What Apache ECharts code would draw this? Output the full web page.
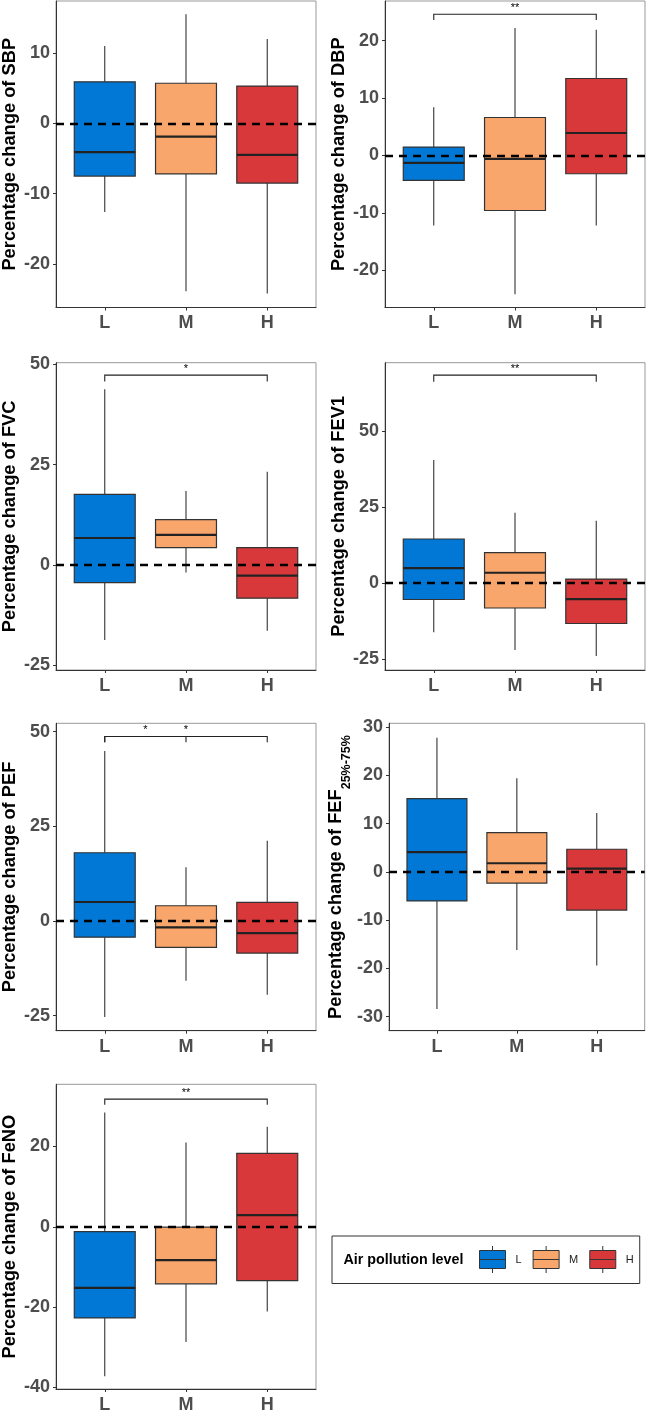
<!DOCTYPE html>
<html>
<head>
<meta charset="utf-8">
<script src="https://cdn.jsdelivr.net/npm/echarts@6/dist/echarts.min.js"></script>
<style>
html,body{margin:0;padding:0;background:#fff;}
#chart{width:646px;height:1414px;}
</style>
</head>
<body>
<div id="chart"></div>
<script>
// ---------- data ----------
const groups = ['L', 'M', 'H'];
const groupColors = ['#0178D6', '#F8A66B', '#D9383A'];

// [lower whisker, Q1, median, Q3, upper whisker] for L, M, H
const sbpStats  = [[-12.6, -7.5, -4.1, 5.9, 11.0], [-23.9, -7.2, -1.9, 5.7, 15.5], [-24.2, -8.5, -4.5, 5.3, 12.0]];
const dbpStats  = [[-12.2, -4.35, -1.3, 1.45, 8.4], [-24.2, -9.6, -0.6, 6.6, 22.2], [-12.2, -3.2, 3.9, 13.4, 21.9]];
const fvcStats  = [[-18.7, -4.4, 6.7, 17.6, 43.8], [-1.9, 4.3, 7.5, 11.3, 18.4], [-16.4, -8.3, -2.7, 4.3, 23.2]];
const fev1Stats = [[-16.2, -5.4, 4.9, 14.5, 40.5], [-22.0, -8.2, 3.4, 10.0, 23.1], [-24.0, -13.3, -5.3, 1.3, 20.5]];
const pefStats  = [[-25.4, -4.3, 5.0, 18.0, 44.9], [-15.8, -7.0, -1.7, 4.0, 14.2], [-19.5, -8.5, -3.2, 4.9, 21.2]];
const fefStats  = [[-28.4, -6.0, 4.1, 15.2, 27.8], [-16.2, -2.3, 1.8, 8.15, 19.4], [-19.4, -7.9, 0.7, 4.7, 12.2]];
const fenoStats = [[-37.2, -22.7, -15.2, -1.2, 28.5], [-28.7, -14.2, -8.3, -0.1, 21.0], [-21.1, -13.4, 2.9, 18.3, 24.9]];

// y tick labels
const sbpTicks  = [-20, -10, 0, 10];
const dbpTicks  = [-20, -10, 0, 10, 20];
const fvcTicks  = [-25, 0, 25, 50];
const fev1Ticks = [-25, 0, 25, 50];
const pefTicks  = [-25, 0, 25, 50];
const fefTicks  = [-30, -20, -10, 0, 10, 20, 30];
const fenoTicks = [-40, -20, 0, 20];

// y axis ranges [min, max]
const sbpRange  = [-26.2, 17.4];
const dbpRange  = [-26.5, 26.9];
const fvcRange  = [-26.2, 50.4];
const fev1Range = [-28.6, 72.5];
const pefRange  = [-29.0, 52.2];
const fefRange  = [-32.9, 30.8];
const fenoRange = [-40.4, 35.5];

// significance brackets: [from group, to group, bracket y, tip y, label]
const sbpSig  = [];
const dbpSig  = [[1, 3, 24.6, 23.6, '**']];
const fvcSig  = [[1, 3, 47.3, 45.7, '*']];
const fev1Sig = [[1, 3, 68.4, 66.2, '**']];
const pefSig  = [[1, 2, 48.7, 47.2, '*'], [1, 3, 48.7, 47.2, '*']];
const fefSig  = [];
const fenoSig = [[1, 3, 31.8, 30.4, '**']];

const titles = [
  'Percentage change of SBP',
  'Percentage change of DBP',
  'Percentage change of FVC',
  'Percentage change of FEV1',
  'Percentage change of PEF',
  '{m|Percentage change of FEF}{s|25%-75%}',
  'Percentage change of FeNO'
];
const legendTitle = 'Air pollution level';

// ---------- layout ----------
const FONT = "'Liberation Sans', Arial, sans-serif";
const gridBoxes = [
  { left: 55,  top: 1,     width: 261,   height: 306.5 },
  { left: 385, top: 1,     width: 260,   height: 306.5 },
  { left: 55,  top: 362.7, width: 261,   height: 307.3 },
  { left: 385, top: 362.7, width: 260,   height: 307.3 },
  { left: 55,  top: 723.3, width: 261,   height: 307.4 },
  { left: 389, top: 723.3, width: 255.7, height: 307.4 },
  { left: 55,  top: 1084.3, width: 261,  height: 308 }
];
const nameGaps = [37, 37, 37, 37, 37, 34, 37];

const panels = [
  { stats: sbpStats,  ticks: sbpTicks,  range: sbpRange,  sig: sbpSig },
  { stats: dbpStats,  ticks: dbpTicks,  range: dbpRange,  sig: dbpSig },
  { stats: fvcStats,  ticks: fvcTicks,  range: fvcRange,  sig: fvcSig },
  { stats: fev1Stats, ticks: fev1Ticks, range: fev1Range, sig: fev1Sig },
  { stats: pefStats,  ticks: pefTicks,  range: pefRange,  sig: pefSig },
  { stats: fefStats,  ticks: fefTicks,  range: fefRange,  sig: fefSig },
  { stats: fenoStats, ticks: fenoTicks, range: fenoRange, sig: fenoSig }
];

function renderBox(params, api) {
  const x = api.value(0);
  const lo = api.coord([x, api.value(1)]);
  const q1 = api.coord([x, api.value(2)]);
  const md = api.coord([x, api.value(3)]);
  const q3 = api.coord([x, api.value(4)]);
  const hi = api.coord([x, api.value(5)]);
  const half = api.size([0.75, 0])[0] / 2;
  const color = api.visual('color');
  return {
    type: 'group',
    children: [
      { type: 'line', shape: { x1: hi[0], y1: hi[1], x2: q3[0], y2: q3[1] }, style: { stroke: '#333', lineWidth: 1.1 } },
      { type: 'line', shape: { x1: q1[0], y1: q1[1], x2: lo[0], y2: lo[1] }, style: { stroke: '#333', lineWidth: 1.1 } },
      { type: 'rect', shape: { x: md[0] - half, y: q3[1], width: 2 * half, height: q1[1] - q3[1] }, style: { fill: color, stroke: '#333', lineWidth: 1.2 } },
      { type: 'line', shape: { x1: md[0] - half, y1: md[1], x2: md[0] + half, y2: md[1] }, style: { stroke: '#222', lineWidth: 2.2 } }
    ]
  };
}

function renderSig(params, api) {
  const a = api.value(0), b = api.value(1), y = api.value(2), tip = api.value(3);
  const p1 = api.coord([a, tip]), p2 = api.coord([a, y]), p3 = api.coord([b, y]), p4 = api.coord([b, tip]);
  const label = params.context.labels[params.dataIndex];
  const mid = api.coord([(a + b) / 2, y]);
  return {
    type: 'group',
    children: [
      { type: 'polyline', shape: { points: [p1, p2, p3, p4] }, style: { stroke: '#222', lineWidth: 1.1, fill: null } },
      { type: 'text', x: mid[0], y: mid[1] - 1, style: { text: label, fill: '#000', font: '11px ' + FONT, align: 'center', verticalAlign: 'bottom' } }
    ]
  };
}

const grid = [], xAxis = [], yAxis = [], series = [];
panels.forEach((p, i) => {
  grid.push(Object.assign({ show: true, borderColor: '#999', borderWidth: 1, backgroundColor: 'transparent' }, gridBoxes[i]));
  xAxis.push({
    type: 'value', gridIndex: i, min: 0.4, max: 3.6,
    splitLine: { show: false },
    axisLine: { show: true, onZero: false, lineStyle: { color: '#333', width: 1 } },
    axisTick: { show: true, customValues: [1, 2, 3], length: 3, lineStyle: { color: '#333' } },
    axisLabel: { customValues: [1, 2, 3], formatter: v => groups[Math.round(v) - 1], fontSize: 18, fontWeight: 'bold', color: '#4D4D4D', fontFamily: FONT, margin: 7 }
  });
  yAxis.push({
    type: 'value', gridIndex: i, min: p.range[0], max: p.range[1],
    name: titles[i], nameLocation: 'middle', nameGap: nameGaps[i],
    nameTextStyle: {
      fontSize: 18.3, fontWeight: 'bold', color: '#000', fontFamily: FONT,
      rich: {
        m: { fontSize: 18.3, fontWeight: 'bold', color: '#000', fontFamily: FONT },
        s: { fontSize: 12.5, fontWeight: 'bold', color: '#000', fontFamily: FONT, padding: [22, 0, 0, 0] }
      }
    },
    splitLine: { show: false },
    axisLine: { show: true, onZero: false, lineStyle: { color: '#333', width: 1 } },
    axisTick: { show: true, customValues: p.ticks, length: 3, lineStyle: { color: '#333' } },
    axisLabel: { customValues: p.ticks, fontSize: 18, fontWeight: 'bold', color: '#4D4D4D', fontFamily: FONT, margin: 6 }
  });
  groups.forEach((g, k) => {
    series.push({
      type: 'custom', name: g, xAxisIndex: i, yAxisIndex: i,
      itemStyle: { color: groupColors[k], borderColor: '#333', borderWidth: 1 },
      renderItem: renderBox,
      encode: { x: 0, y: [1, 2, 3, 4, 5] },
      data: [[k + 1].concat(p.stats[k])],
      z: 2, silent: true
    });
  });
  // zero reference line
  series.push({
    type: 'line', name: 'zero' + i, xAxisIndex: i, yAxisIndex: i, data: [], z: 5, silent: true,
    markLine: {
      silent: true, symbol: 'none', animation: false,
      label: { show: false },
      lineStyle: { type: [8, 6], color: '#000', width: 2.3 },
      data: [{ yAxis: 0 }]
    }
  });
  if (p.sig.length) {
    const ctx = { labels: p.sig.map(s => s[4]) };
    series.push({
      type: 'custom', name: 'sig' + i, xAxisIndex: i, yAxisIndex: i, z: 6, silent: true,
      renderItem: (params, api) => { params.context.labels = ctx.labels; return renderSig(params, api); },
      encode: { x: [0, 1], y: [2, 3] },
      data: p.sig.map(s => s.slice(0, 4))
    });
  }
});

const option = {
  animation: false,
  backgroundColor: '#fff',
  textStyle: { fontFamily: FONT },
  title: [{
    text: legendTitle, left: 343.5, top: 1253.5, padding: 0,
    textStyle: { fontSize: 14.3, fontWeight: 'bold', color: '#000', fontFamily: FONT }
  }],
  legend: {
    data: groups,
    left: 332, top: 1236,
    orient: 'horizontal',
    padding: [9.5, 6, 10, 147],
    itemGap: 11,
    itemWidth: 26, itemHeight: 27,
    icon: 'path://M13,0L13,4.5M0,4.5L26,4.5L26,22.5L0,22.5ZM0,13.5L26,13.5M13,22.5L13,27',
    itemStyle: { borderColor: '#333', borderWidth: 1 },
    borderColor: '#333', borderWidth: 1,
    selectedMode: false,
    textStyle: { fontSize: 11, color: '#222', fontFamily: FONT, padding: [0, 0, 0, 5] }
  },
  grid, xAxis, yAxis, series
};

const chart = echarts.init(document.getElementById('chart'), null, { renderer: 'canvas' });
chart.setOption(option);
</script>
</body>
</html>
